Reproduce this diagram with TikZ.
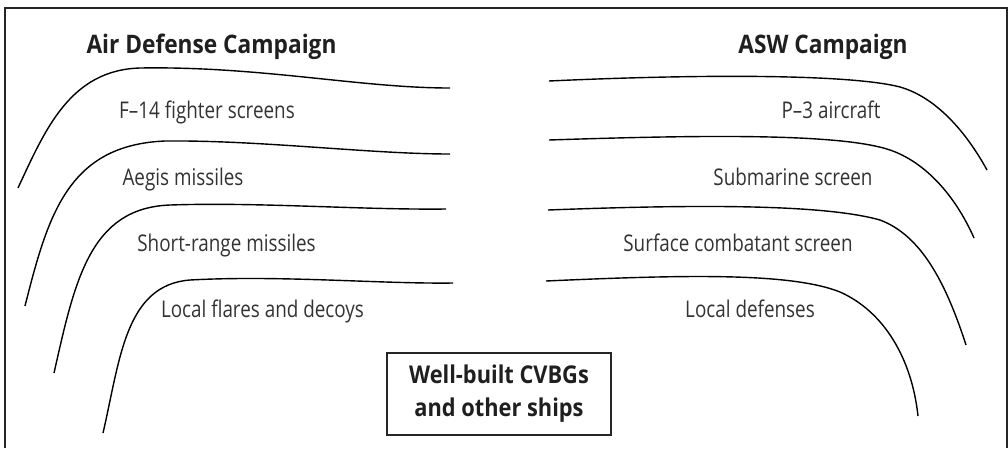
\documentclass[tikz,border=0pt]{standalone}
\usepackage{fontspec}
\setmainfont{Open Sans}[FakeStretch=0.82]
\newfontfamily\boldcond{Open Sans}[FakeStretch=0.89]
\begin{document}
\begin{tikzpicture}[x=1pt,y=-1pt,
  curve/.style={line width=1.4pt, black},
  frameline/.style={line width=2pt, black!85},
  lbl/.style={anchor=base, inner sep=0pt, text=black!80, font=\fontsize{23}{27}\selectfont},
  head/.style={anchor=base, inner sep=0pt, text=black!88, font=\boldcond\fontsize{25.5}{30}\selectfont\bfseries},
  corebox/.style={draw=black!85, line width=2pt, minimum width=224pt, minimum height=82pt, inner sep=0pt, align=center, text=black!88, font=\boldcond\fontsize{24.5}{33}\selectfont\bfseries}]
\useasboundingbox (0,0) rectangle (1008,448);
% open frame
\draw[frameline] (4.5,448) -- (4.5,8) -- (1006.5,8) -- (1006.5,448);
% headings
\node[head] (airhead) at (211.5,53) {Air Defense Campaign};
\node[head] (aswhead) at (823,53) {ASW Campaign};
% left curves
\draw[curve] (18,188) .. controls (45,130) and (70,70) .. (140,68) .. controls (260,66) and (360,88) .. (450,88);
\draw[curve] (25,306) .. controls (48,215) and (68,145) .. (165,141) .. controls (260,140) and (370,154) .. (450,154);
\draw[curve] (54,373) .. controls (75,280) and (90,208) .. (170,205) .. controls (260,202) and (360,210) .. (446,209);
\draw[curve] (103,433) .. controls (120,360) and (125,285) .. (190,280) .. controls (280,275) and (380,284) .. (453,283);
% right curves
\draw[curve] (549,81) .. controls (700,74) and (850,74) .. (900,87) .. controls (935,97) and (965,130) .. (987,170);
\draw[curve] (549,140) .. controls (700,135) and (840,133) .. (890,150) .. controls (925,162) and (955,195) .. (974,238);
\draw[curve] (548,210) .. controls (680,205) and (820,203) .. (880,220) .. controls (920,235) and (945,280) .. (966,345);
\draw[curve] (546,281) .. controls (680,275) and (790,272) .. (840,292) .. controls (885,312) and (912,360) .. (918,416);
% left labels
\node[lbl] (f14) at (207,118) {F–14 fighter screens};
\node[lbl] (aegis) at (183,185) {Aegis missiles};
\node[lbl] (shortrange) at (226.5,251) {Short-range missiles};
\node[lbl] (flares) at (262.5,317) {Local flares and decoys};
% right labels
\node[lbl] (p3) at (831,118) {P–3 aircraft};
\node[lbl] (sub) at (793,185) {Submarine screen};
\node[lbl] (surface) at (738,251) {Surface combatant screen};
\node[lbl] (localdef) at (750,317) {Local defenses};
% core box
\node[corebox] (core) at (499,394) {Well-built CVBGs\\and other ships};
\end{tikzpicture}
\end{document}
